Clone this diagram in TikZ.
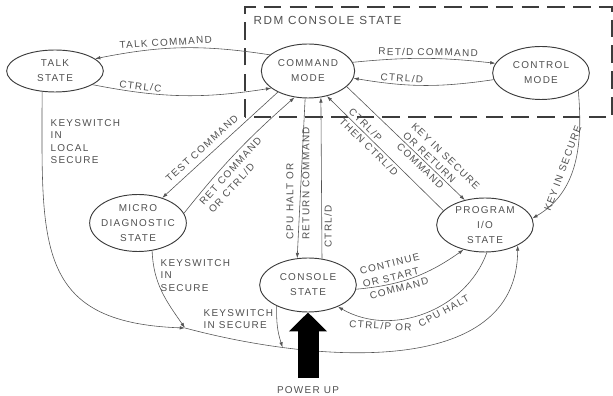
\documentclass[tikz,border=0pt]{standalone}
\usepackage{fontspec}
\setmainfont{Liberation Sans}[LetterSpace=13]
\usepackage{tikz}
\usetikzlibrary{shapes.geometric, arrows.meta, positioning}
\definecolor{inkgray}{RGB}{60, 60, 60}
\definecolor{linegray}{RGB}{85, 85, 85}
\definecolor{textgray}{RGB}{80, 80, 80}
\newcommand{\statefont}{\fontsize{8.5}{12.8}\selectfont}
\newcommand{\lblfont}{\fontsize{8.5}{10.5}\selectfont}
\tikzset{
  state/.style={ellipse, draw=inkgray, line width=0.8pt, inner xsep=-3pt, inner ysep=0pt,
    minimum width=2.9cm, align=center, font=\statefont, text=textgray},
  trans/.style={draw=linegray, line width=0.5pt, -{Latex[length=4.5pt, width=3pt]}},
  lbl/.style={font=\lblfont, text=textgray, inner sep=2pt},
  rdmbox/.style={draw=inkgray, line width=1.5pt, dash pattern=on 15pt off 7pt},
  powerup/.style={draw=black, line width=0.63cm, -{Triangle[length=0.57cm, width=1.11cm]}}
}

\begin{document}
\begin{tikzpicture}[x=0.03cm, y=0.03cm]
  \useasboundingbox (0,0) rectangle (613,396);

  % RDM console state
  \draw[rdmbox] (245,279) rectangle (612,389);
  \node[lbl, anchor=west, font=\fontsize{10}{12}\selectfont] (rdm) at (251,376) {RDM CONSOLE STATE};

  % States
  \node[state, minimum height=1.26cm] (talk) at (55,325) {TALK\\STATE};
  \node[state, minimum width=2.8cm, minimum height=1.62cm] (cmd) at (308,325) {COMMAND\\MODE};
  \node[state, minimum height=1.59cm] (ctrl) at (541,323) {CONTROL\\MODE};
  \node[state, minimum height=1.71cm] (micro) at (138,173) {MICRO\\DIAGNOSTIC\\STATE};
  \node[state, minimum height=1.62cm] (console) at (308,111) {CONSOLE\\STATE};
  \node[state, minimum height=1.62cm] (prog) at (485,171) {PROGRAM\\I/O\\STATE};
  \coordinate (split) at (185,68);

  % Talk state
  \draw[trans] (cmd.157) to[bend right=10] node[lbl, pos=0.6, sloped, above] (talkcmd) {TALK COMMAND} (talk.17);
  \draw[trans] (talk.-20) to[bend right=10] node[lbl, pos=0.25, sloped, above] (ctrlc) {CTRL/C} (cmd.205);

  % Control mode
  \draw[trans] (cmd.11) to[bend left=6] node[lbl, pos=0.53, sloped, above] (retd) {RET/D COMMAND} (ctrl.168);
  \draw[trans] (ctrl.188) to[bend left=9] node[lbl, pos=0.67, sloped, above] (ctrld) {CTRL/D} (cmd.-9);

  % Micro diagnostic
  \draw[trans] (cmd.215) -- node[lbl, pos=0.6, sloped, above=3pt] (test) {TEST COMMAND} (micro.46);
  \draw[trans] (micro.12) to[bend left=5] node[lbl, pos=0.38, sloped, below=2pt, align=left] (retcmd) {RET COMMAND\\OR CTRL/D} (cmd.243);

  % Console state
  \draw[trans] (cmd.264) -- node[lbl, pos=0.9, rotate=90, anchor=west, align=left] (halt) {CPU HALT OR\\[3pt]RETURN COMMAND} (console.112);
  \draw[trans] (console.62) -- node[lbl, pos=0.2, rotate=90, anchor=north] (ctrld2) {CTRL/D} (cmd.296);

  % Program I/O state
  \draw[trans] (prog.161) -- node[lbl, pos=0.6, sloped, align=left] (ctrlp) {CTRL/P\\[1pt]THEN CTRL/D} (cmd.307);
  \draw[trans] (cmd.338) -- node[lbl, pos=0.73, sloped, above, align=left] (keyret) {KEY IN SECURE\\OR RETURN} node[lbl, pos=0.66, sloped, below] (keycmd) {COMMAND} (prog.129);
  \draw[trans] (ctrl.335) to[out=-85, in=30] node[lbl, pos=0.56, sloped, above=3pt] (keysec) {KEY IN SECURE} (prog.8);
  \draw[trans] (console.-5) to[bend right=15] node[lbl, pos=0.32, sloped, above, align=left] (cont) {CONTINUE\\[1pt]OR START} node[lbl, pos=0.35, sloped, below] (contcmd) {COMMAND} (prog.229);
  \draw[trans] (prog.274) to[out=-110, in=-30] node[lbl, pos=0.4, sloped, below] (cpuhalt) {CPU HALT} node[lbl, pos=0.75, sloped, below] (ctrlpor) {CTRL/P OR} (console.-36);

  % Keyswitch paths
  \draw[trans] (split) to[out=-15, in=-90] coordinate[pos=0.23] (merge) (prog.328);
  \draw[trans] (talk.238) to[out=-90, in=178, looseness=1.4] (split);
  \draw[trans] (micro.297) to[out=-88, in=125] (split);
  \draw[trans] (console.214) to[bend right=10] (merge);
  \node[lbl, anchor=north west, align=left] (keylocal) at (48,279) {KEYSWITCH\\IN\\LOCAL\\SECURE};
  \node[lbl, anchor=north west, align=left] (keymicro) at (158,139) {KEYSWITCH\\IN\\SECURE};
  \node[lbl, anchor=north west, align=left] (keycons) at (201,89) {KEYSWITCH\\IN SECURE};

  % Power up
  \node[lbl] (pwr) at (308,6) {POWER UP};
  \draw[powerup] ([yshift=0.17cm]pwr.north) -- (console.south);
\end{tikzpicture}
\end{document}
